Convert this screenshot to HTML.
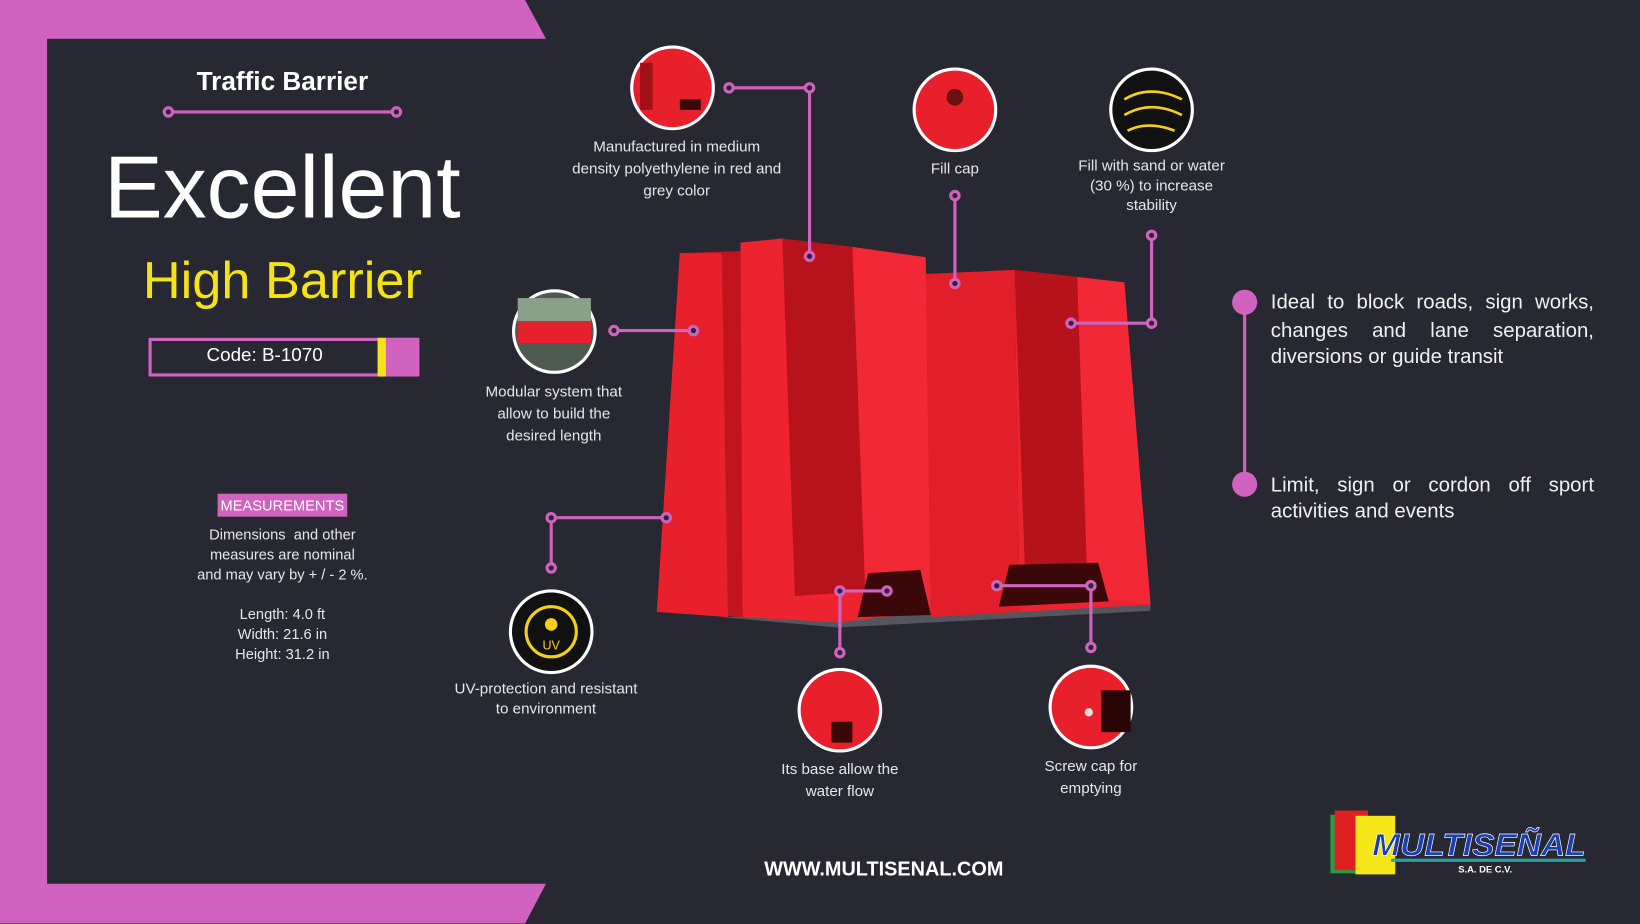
<!DOCTYPE html>
<html><head><meta charset="utf-8"><style>
*{margin:0;padding:0;box-sizing:border-box}
html,body{width:1640px;height:924px;overflow:hidden;background:#282833}
#w{position:absolute;left:0;top:0;width:1568px;height:883px;transform:scale(1.04592);transform-origin:0 0;font-family:"Liberation Sans",sans-serif;color:#fff}
.a{position:absolute}
.c{text-align:center;color:#e6e6ea;font-size:14.5px;line-height:21px}
.j{text-align:justify;text-align-last:justify;font-size:19.5px;line-height:27px;color:#f0f0f0}
</style></head><body><div id="w">
<svg class="a" style="left:0;top:0" width="1568" height="883">
<polygon points="0,0 502,0 522,37 45,37 45,845 522,845 502,883 0,883" fill="#d063bf"/>
<g stroke="#d063bf" stroke-width="3" fill="#282833">
<line x1="161" y1="107" x2="379" y2="107"/><circle cx="161" cy="107" r="4"/><circle cx="379" cy="107" r="4"/>
</g>
<rect x="143.5" y="324.5" width="256" height="34" fill="none" stroke="#d063bf" stroke-width="3"/>
<rect x="361" y="323" width="8" height="37" fill="#f5e31a"/><rect x="369" y="323" width="30" height="37" fill="#d063bf"/>
<rect x="208" y="472" width="124" height="22" fill="#d063bf"/>
<!-- barrier -->
<polygon points="690,590 1100,578 1100,584 800,600" fill="#55555e"/>
<polygon points="650,242 710,240 712,590 628,585" fill="#c0151f"/>
<polygon points="650,242 690,242 696,590 628,585" fill="#e8202b"/>
<polygon points="708,232 748,228 885,246 890,585 800,595 710,590" fill="#ee2330"/>
<polygon points="748,228 815,236 828,565 760,570" fill="#b8121c"/>
<polygon points="815,236 885,246 890,585 828,585" fill="#f22836"/>
<polygon points="885,262 970,258 975,585 890,590" fill="#e11e2a"/>
<polygon points="970,258 1075,270 1100,578 975,585" fill="#ee2330"/>
<polygon points="970,258 1030,265 1040,545 980,548" fill="#b5121b"/>
<polygon points="1030,265 1075,270 1100,578 1040,570" fill="#f22836"/>
<polygon points="830,548 880,545 890,588 820,590" fill="#3a0808"/>
<polygon points="965,540 1050,538 1060,575 955,580" fill="#3a0808"/>
<g stroke="#d063bf" stroke-width="3" fill="#282833">
<polyline fill="none" points="697,84 774,84 774,245"/><circle cx="697" cy="84" r="4"/><circle cx="774" cy="84" r="4"/><circle cx="774" cy="245" r="4"/>
<line x1="913" y1="187" x2="913" y2="271"/><circle cx="913" cy="187" r="4"/><circle cx="913" cy="271" r="4"/>
<polyline fill="none" points="1101,225 1101,309 1024,309"/><circle cx="1101" cy="225" r="4"/><circle cx="1101" cy="309" r="4"/><circle cx="1024" cy="309" r="4"/>
<line x1="587" y1="316" x2="663" y2="316"/><circle cx="587" cy="316" r="4"/><circle cx="663" cy="316" r="4"/>
<polyline fill="none" points="527,543 527,495 637,495"/><circle cx="527" cy="543" r="4"/><circle cx="527" cy="495" r="4"/><circle cx="637" cy="495" r="4"/>
<polyline fill="none" points="803,624 803,565 848,565"/><circle cx="803" cy="624" r="4"/><circle cx="803" cy="565" r="4"/><circle cx="848" cy="565" r="4"/>
<polyline fill="none" points="1043,619 1043,560 953,560"/><circle cx="1043" cy="619" r="4"/><circle cx="1043" cy="560" r="4"/><circle cx="953" cy="560" r="4"/>
<line x1="1190" y1="289" x2="1190" y2="463"/>
</g>
<circle cx="1190" cy="289" r="12" fill="#d063bf"/><circle cx="1190" cy="463" r="12" fill="#d063bf"/>
<!-- thumbnails -->
<g stroke="#fff" stroke-width="3">
<circle cx="643" cy="84" r="39" fill="#e8202b"/>
<circle cx="913" cy="105" r="39" fill="#e8202b"/>
<circle cx="1101" cy="105" r="39" fill="#111"/>
<circle cx="530" cy="317" r="39" fill="#4d5a50"/>
<circle cx="527" cy="604" r="39" fill="#111"/>
<circle cx="803" cy="679" r="39" fill="#e8202b"/>
<circle cx="1043" cy="676" r="39" fill="#e8202b"/>
</g>
<rect x="612" y="60" width="12" height="45" fill="#a01018"/><rect x="650" y="95" width="20" height="10" fill="#3a0808"/>
<rect x="495" y="308" width="70" height="20" fill="#e8202b"/>
<rect x="495" y="285" width="70" height="22" fill="#8aa08a"/>
<circle cx="527" cy="604" r="24" fill="none" stroke="#f5d018" stroke-width="3"/>
<text x="527" y="621" fill="#f5d018" font-size="12" text-anchor="middle">UV</text>
<circle cx="527" cy="597" r="6" fill="#f5d018"/>
<path d="M1075 95 q25 -15 55 0 M1075 110 q25 -15 55 0 M1078 125 q20 -10 45 0" stroke="#f5d018" stroke-width="2.5" fill="none"/>
<circle cx="913" cy="93" r="8" fill="#6a1010"/>
<rect x="795" y="690" width="20" height="20" fill="#3a0808"/>
<rect x="1053" y="660" width="28" height="40" fill="#2a0505"/><circle cx="1041" cy="681" r="4" fill="#ddd"/>
<!-- logo -->
<rect x="1272" y="779" width="32" height="56" fill="#20a040"/><rect x="1276" y="775" width="32" height="57" fill="#e02020"/>
<rect x="1296" y="780" width="38" height="56" fill="#f5e61a"/>
<text x="1312" y="818" fill="#1a3fb0" font-size="30" font-weight="bold" font-style="italic" stroke="#fff" stroke-width="0.6" textLength="204" lengthAdjust="spacingAndGlyphs">MULTISEÑAL</text>
<rect x="1330" y="821" width="186" height="3" fill="#30a0a0"/>
<text x="1420" y="834" fill="#fff" font-size="9" font-weight="bold" text-anchor="middle">S.A. DE C.V.</text>
</svg>
<div class="a" style="left:120px;top:64px;width:300px;text-align:center;font-size:25px;font-weight:bold">Traffic Barrier</div>
<div class="a" style="left:40px;top:132px;width:460px;text-align:center;font-size:84px;line-height:94px">Excellent</div>
<div class="a" style="left:60px;top:238px;width:420px;text-align:center;font-size:50px;line-height:60px;color:#f5e31a">High Barrier</div>
<div class="a" style="left:143px;top:329px;width:220px;text-align:center;font-size:18px">Code: B-1070</div>
<div class="a" style="left:208px;top:475px;width:124px;text-align:center;font-size:14px">MEASUREMENTS</div>
<div class="a c" style="left:150px;top:502px;width:240px;line-height:19px;font-size:14px">Dimensions&nbsp; and other<br>measures are nominal<br>and may vary by + / - 2 %.<br><br>Length: 4.0 ft<br>Width: 21.6 in<br>Height: 31.2 in</div>
<div class="a c" style="left:547px;top:131px;width:200px">Manufactured in medium density polyethylene in red and grey color</div>
<div class="a c" style="left:853px;top:152px;width:120px">Fill cap</div>
<div class="a c" style="left:1021px;top:150px;width:160px;line-height:19px">Fill with sand or water (30 %) to increase stability</div>
<div class="a c" style="left:452px;top:365px;width:155px">Modular system that allow to build the desired length</div>
<div class="a c" style="left:427px;top:650px;width:190px;line-height:19px">UV-protection and resistant to environment</div>
<div class="a c" style="left:733px;top:726px;width:140px">Its base allow the water flow</div>
<div class="a c" style="left:973px;top:723px;width:140px">Screw cap for emptying</div>
<div class="a j" style="left:1215px;top:276px;width:309px">Ideal to block roads, sign works, changes and lane separation,</div>
<div class="a" style="left:1215px;top:330px;font-size:19.5px;color:#f0f0f0">diversions or guide transit</div>
<div class="a j" style="left:1215px;top:451px;width:309px">Limit, sign or cordon off sport</div>
<div class="a" style="left:1215px;top:478px;font-size:19.5px;color:#f0f0f0">activities and events</div>
<div class="a" style="left:645px;top:821px;width:400px;text-align:center;font-size:19px;font-weight:bold">WWW.MULTISENAL.COM</div>
</div></body></html>
